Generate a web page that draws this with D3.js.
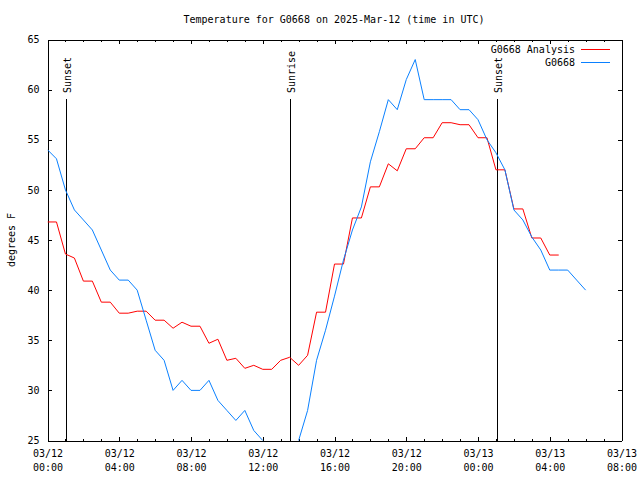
<!DOCTYPE html>
<html>
<head>
<meta charset="utf-8">
<script src="https://cdn.jsdelivr.net/npm/d3@7"></script>
<style>
  html, body { margin: 0; padding: 0; background: #fff; }
  svg { display: block; }
  text { font-family: "DejaVu Sans Mono", monospace; font-size: 10px; fill: #000; }
</style>
</head>
<body>
<svg id="chart" width="640" height="480"></svg>
<script>
// ---- data ----
const titleText = "Temperature for G0668 on 2025-Mar-12 (time in UTC)";
const yLabel = "degrees F";
const startTime = "2025-03-12T00:00:00Z";
const endTime = "2025-03-13T08:00:00Z";
// sample times: hours after 2025-03-12 00:00 UTC
const sampleHours = [0,0.5,1,1.5,2,2.5,3,3.5,4,4.5,5,5.5,6,6.5,7,7.5,8,8.5,9,9.5,
  10,10.5,11,11.5,12,12.5,13,13.5,14,14.5,15,15.5,16,16.5,17,17.5,18,18.5,19,19.5,
  20,20.5,21,21.5,22,22.5,23,23.5,24,24.5,25,25.5,26,26.5,27,27.5,28,28.5,29,29.5,30];
const analysisTemps = [46.8,46.8,43.6,43.2,40.9,40.9,38.8,38.8,37.7,37.7,37.9,37.9,37.0,37.0,
  36.2,36.8,36.4,36.4,34.7,35.1,33.0,33.2,32.2,32.5,32.1,32.1,33.0,33.3,32.5,33.5,
  37.8,37.8,42.6,42.6,47.2,47.2,50.3,50.3,52.6,51.9,54.1,54.1,55.2,55.2,56.7,56.7,
  56.5,56.5,55.2,55.2,52.0,52.0,48.1,48.1,45.2,45.2,43.5,43.5];
const observedTemps = [54.0,53.1,50.0,48.0,47.0,46.0,44.0,42.0,41.0,41.0,40.0,37.0,34.0,33.0,
  30.0,31.0,30.0,30.0,31.0,29.0,28.0,27.0,28.0,26.0,25.0,24.0,23.0,23.0,25.0,28.0,
  33.0,36.0,39.4,43.0,46.0,48.3,52.8,55.8,59.0,58.0,61.0,63.0,59.0,59.0,59.0,59.0,
  58.0,58.0,57.0,55.0,53.7,52.0,48.0,47.0,45.3,44.0,42.0,42.0,42.0,41.0,40.0];
const seriesNames = ["G0668 Analysis", "G0668"];
const seriesColors = ["#ff0000", "#0a80ff"];
const eventLabels = ["Sunset", "Sunrise", "Sunset"];
const eventTimes = ["2025-03-12T01:02:00Z", "2025-03-12T13:31:00Z", "2025-03-13T01:05:00Z"];
const yTicks = [25,30,35,40,45,50,55,60,65];

// ---- layout ----
const svg = d3.select("#chart");
const L = 47.5, R = 621.5, T = 39.5, B = 440.5;
const t0 = new Date(startTime);
const toDate = h => new Date(t0.getTime() + h * 3600000);

const x = d3.scaleUtc().domain([t0, new Date(endTime)]).range([L, R]);
const y = d3.scaleLinear().domain([25, 65]).range([B, T]);

svg.append("defs").append("clipPath").attr("id", "clip")
  .append("rect").attr("x", L).attr("y", T).attr("width", R - L).attr("height", B - T);

// title
svg.append("text").attr("x", 334).attr("y", 23).attr("text-anchor", "middle").text(titleText);

// y label
svg.append("text").attr("transform", "translate(15,240) rotate(-90)")
  .attr("text-anchor", "middle").text(yLabel);

const fmtDate = d3.utcFormat("%m/%d"), fmtTime = d3.utcFormat("%H:%M");

// bottom axis (major)
const gB = svg.append("g").attr("transform", `translate(0,${B})`)
  .call(d3.axisBottom(x).ticks(d3.utcHour.every(4)).tickSize(-4).tickSizeOuter(0).tickPadding(9)
    .tickFormat(() => ""));
gB.selectAll(".tick text").each(function(d) {
  const t = d3.select(this);
  t.append("tspan").attr("x", 0).attr("dy", "0.71em").text(fmtDate(d));
  t.append("tspan").attr("x", 0).attr("dy", "14").text(fmtTime(d));
}).attr("dy", null);
// bottom minor
svg.append("g").attr("transform", `translate(0,${B})`)
  .call(d3.axisBottom(x).ticks(d3.utcHour.every(1)).tickSize(-2).tickSizeOuter(0).tickFormat(""))
  .select(".domain").remove();
// top axis
svg.append("g").attr("transform", `translate(0,${T})`)
  .call(d3.axisTop(x).ticks(d3.utcHour.every(4)).tickSize(-4).tickSizeOuter(0).tickFormat(""));
svg.append("g").attr("transform", `translate(0,${T})`)
  .call(d3.axisTop(x).ticks(d3.utcHour.every(1)).tickSize(-2).tickSizeOuter(0).tickFormat(""))
  .select(".domain").remove();
// left axis
svg.append("g").attr("transform", `translate(${L},0)`)
  .call(d3.axisLeft(y).tickValues(yTicks).tickSize(-4).tickSizeOuter(0).tickPadding(8).tickFormat(d3.format("d")));
// right axis
svg.append("g").attr("transform", `translate(${R},0)`)
  .call(d3.axisRight(y).tickValues(yTicks).tickSize(-4).tickSizeOuter(0).tickFormat(""));

svg.selectAll(".tick line, .domain").attr("stroke", "#000").attr("shape-rendering", "crispEdges");
svg.selectAll(".tick text").attr("font-family", "DejaVu Sans Mono, monospace").attr("font-size", 10).attr("fill", "#000");

// event lines
eventTimes.forEach((et, i) => {
  const ex = Math.round(x(new Date(et))) + 0.5;
  svg.append("line").attr("x1", ex).attr("x2", ex).attr("y1", 99).attr("y2", B)
    .attr("stroke", "#000").attr("shape-rendering", "crispEdges");
  svg.append("text").attr("transform", `translate(${ex + 4},93) rotate(-90)`)
    .attr("text-anchor", "start").text(eventLabels[i]);
});

// data lines
const line = d3.line().x(d => x(d[0])).y(d => y(d[1]));
const seriesData = [analysisTemps, observedTemps].map(vals =>
  vals.map((v, i) => [toDate(sampleHours[i]), v]));
seriesData.forEach((pts, i) => {
  svg.append("path").attr("clip-path", "url(#clip)").attr("d", line(pts))
    .attr("fill", "none").attr("stroke", seriesColors[i]).attr("stroke-width", 1);
});

// legend
seriesNames.forEach((name, i) => {
  const ly = 49.5 + i * 13;
  svg.append("text").attr("x", 575).attr("y", ly + 3.5).attr("text-anchor", "end").text(name);
  svg.append("line").attr("x1", 581).attr("x2", 610).attr("y1", ly).attr("y2", ly)
    .attr("stroke", seriesColors[i]).attr("shape-rendering", "crispEdges");
});
</script>
</body>
</html>
